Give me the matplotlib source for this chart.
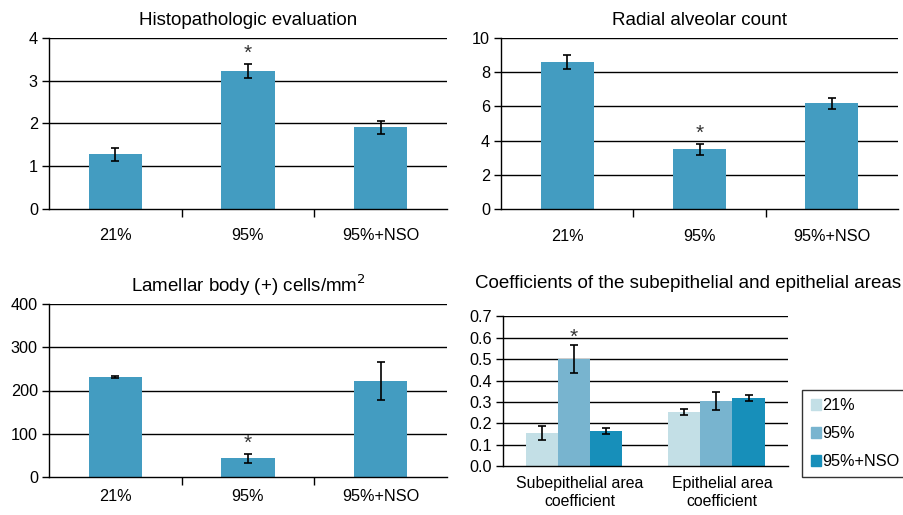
import matplotlib.pyplot as plt
import matplotlib.patches as mpatches
import numpy as np

plt.rcParams['font.family'] = ['Liberation Sans', 'DejaVu Sans']

groups = ['21%', '95%', '95%+NSO']

histo_vals = [1.28, 3.22, 1.91]
histo_err = [0.15, 0.17, 0.15]

radial_vals = [8.58, 3.50, 6.18]
radial_err = [0.43, 0.31, 0.32]

lamellar_vals = [231, 43, 222]
lamellar_err = [2, 10.5, 43]

coef_cats = ['Subepithelial area\ncoefficient', 'Epithelial area\ncoefficient']
coef_vals = {'21%': [0.155, 0.253], '95%': [0.50, 0.305], '95%+NSO': [0.165, 0.319]}
coef_err = {'21%': [0.033, 0.015], '95%': [0.065, 0.04], '95%+NSO': [0.013, 0.012]}

bar_color = '#439cc1'
coef_colors = ['#c3dfe6', '#78b4cf', '#178fba']

TICK_FS = 11.7

W, H = 904, 515
fig = plt.figure(figsize=(W / 100, H / 100), dpi=100)


def px_axes(x0, x1, ytop, ybot):
    return fig.add_axes([x0 / W, 1 - ybot / H, (x1 - x0) / W, (ybot - ytop) / H])


def style(ax, yticks, fmt):
    ax.set_ylim(yticks[0], yticks[-1])
    ax.set_yticks(yticks)
    ax.set_yticklabels([fmt.format(t) for t in yticks], fontsize=TICK_FS)
    for t in yticks[1:]:
        ax.axhline(t, color='black', lw=1.0, zorder=0)
    ax.spines['top'].set_visible(False)
    ax.spines['right'].set_visible(False)
    ax.spines['left'].set_linewidth(1.0)
    ax.spines['bottom'].set_linewidth(1.0)
    ax.tick_params(axis='y', direction='out', length=5, width=1.0, pad=3)


def simple_panel(ax, vals, errs, yticks, title, star_off, xpad):
    x = np.arange(len(groups))
    ax.bar(x, vals, width=0.4, color=bar_color, zorder=2)
    ax.errorbar(x, vals, yerr=errs, fmt='none', ecolor='black', elinewidth=1.2,
                capsize=3, capthick=1.2, zorder=3)
    ax.set_xlim(-0.5, 2.5)
    style(ax, yticks, '{:g}')
    # category boundary ticks below the axis
    ax.set_xticks([0.5, 1.5], minor=True)
    ax.set_xticks(x)
    ax.set_xticklabels(groups, fontsize=TICK_FS)
    ax.tick_params(axis='x', which='major', length=0, pad=xpad)
    ax.tick_params(axis='x', which='minor', direction='out', length=6, width=1.0)
    ax.set_title(title, fontsize=13.5, pad=9)
    ax.text(1, vals[1] + errs[1] + star_off, '*', ha='center', va='center',
            fontsize=15, color='#333333')


ax1 = px_axes(49, 447, 37.7, 209)
simple_panel(ax1, histo_vals, histo_err, [0, 1, 2, 3, 4], 'Histopathologic evaluation', 0.25, 14)

ax2 = px_axes(501, 898, 37.7, 209.3)
simple_panel(ax2, radial_vals, radial_err, [0, 2, 4, 6, 8, 10], 'Radial alveolar count', 0.6, 14)

ax3 = px_axes(49, 447, 304.3, 476.7)
simple_panel(ax3, lamellar_vals, lamellar_err, [0, 100, 200, 300, 400],
             'Lamellar body (+) cells/mm$^2$', 25, 9)

ax4 = px_axes(502.7, 787.7, 316.3, 466.3)
w = 0.225
centers = np.arange(len(coef_cats))
handles = []
for i, g in enumerate(groups):
    xs = centers + (i - 1) * w
    ax4.bar(xs, coef_vals[g], width=w, color=coef_colors[i], zorder=2)
    ax4.errorbar(xs, coef_vals[g], yerr=coef_err[g], fmt='none', ecolor='black',
                 elinewidth=1.2, capsize=3, capthick=1.2, zorder=3)
    handles.append(mpatches.Patch(color=coef_colors[i], label=g))
ax4.set_xlim(-0.5, 1.5)
style(ax4, [0, 0.1, 0.2, 0.3, 0.4, 0.5, 0.6, 0.7], '{:.1f}')
ax4.set_xticks(centers + 0.04)
ax4.set_xticklabels(coef_cats, fontsize=TICK_FS - 0.3, linespacing=1.25)
ax4.tick_params(axis='x', length=0, pad=7)
ax4.text(0, coef_vals['95%'][0] + coef_err['95%'][0] + 0.035, '*', ha='center',
         va='center', fontsize=15, color='#333333')

fig.text(688 / W, 1 - 283 / H, 'Coefficients of the subepithelial and epithelial areas',
         ha='center', va='center', fontsize=13.5)

leg = fig.legend(handles=handles, loc='upper left', bbox_to_anchor=(802.5 / W, 1 - 390 / H),
                 fontsize=TICK_FS, frameon=True, fancybox=False, edgecolor='black',
                 handlelength=0.65, handleheight=0.65, handletextpad=0.08,
                 labelspacing=0.8, borderpad=0.5, borderaxespad=0)
leg.get_frame().set_linewidth(1.0)

fig.savefig('out.png', dpi=100)
